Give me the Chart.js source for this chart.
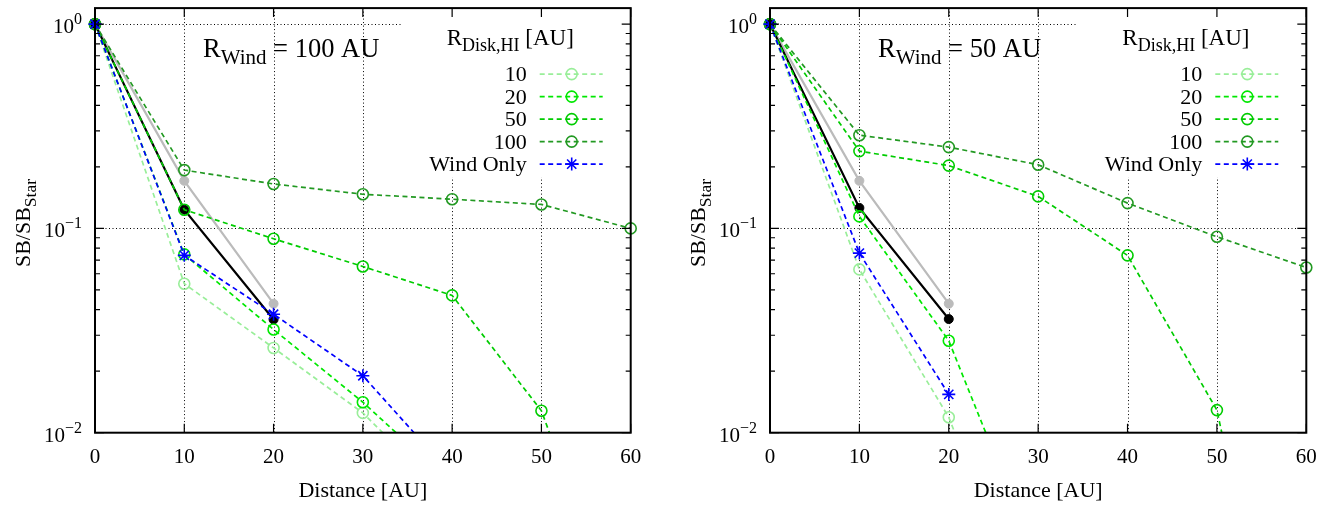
<!DOCTYPE html>
<html><head><meta charset="utf-8">
<script src="https://cdn.jsdelivr.net/npm/chart.js@4.4.0/dist/chart.umd.min.js"></script>
<style>
body{margin:0;background:#fff;width:1335px;height:506px;overflow:hidden;position:relative}
canvas{position:absolute;top:0}
</style></head>
<body>
<canvas id="c1" width="667" height="506" style="left:0px"></canvas>
<canvas id="c2" width="668" height="506" style="left:667px"></canvas>
<script>
// ---------- data ----------
const distance = [0, 10, 20, 30, 40, 50, 60];
const xTicks = [0, 10, 20, 30, 40, 50, 60];
const yMajorTicks = [1, 0.1, 0.01];
const yTickExponents = ['0', '\u22121', '\u22122'];
const legendLabels = ['10', '20', '50', '100', 'Wind Only'];
const panelTitles = ['100 AU', '50 AU'];

// R_Wind = 100 AU
const disk10_w100  = [1, 0.0536, 0.026, 0.0125, 0.0046];
const disk20_w100  = [1, 0.0746, 0.032, 0.0141, 0.0056];
const disk50_w100  = [1, 0.1235, 0.089, 0.0651, 0.047, 0.0128, 0.00082];
const disk100_w100 = [1, 0.193, 0.165, 0.147, 0.139, 0.131, 0.1];
const wind_w100    = [1, 0.0738, 0.038, 0.019, 0.0062];
const black_w100   = [1, 0.1235, 0.0358];
const gray_w100    = [1, 0.171, 0.0428];

// R_Wind = 50 AU
const disk10_w50  = [1, 0.063, 0.0119, 0.0009];
const disk20_w50  = [1, 0.1145, 0.0282, 0.0023];
const disk50_w50  = [1, 0.239, 0.203, 0.1435, 0.0738, 0.0129, 0.00012];
const disk100_w50 = [1, 0.286, 0.25, 0.205, 0.133, 0.091, 0.0644];
const wind_w50    = [1, 0.0757, 0.0154];
const black_w50   = [1, 0.126, 0.036];
const gray_w50    = [1, 0.171, 0.0428];

// ---------- styles ----------
const COL10 = '#99ee99', COL20 = '#00e800', COL50 = '#00cc00', COL100 = '#229922', COLW = '#0000ff';
const FONT = '"Liberation Serif", "DejaVu Serif", serif';
const DASH = [5, 3.5];

function pts(arr) { return arr.map((v, i) => ({x: distance[i], y: v})); }

function openSeries(label, arr, color) {
  return {label, data: pts(arr), borderColor: color, backgroundColor: color, borderWidth: 1.7,
    borderDash: DASH, pointStyle: 'circle', pointRadius: 5.5, pointBorderWidth: 1.6,
    pointBackgroundColor: 'rgba(0,0,0,0)', pointBorderColor: color, tension: 0,
    clip: {left: 20, right: 20, top: 20, bottom: 0}};
}
function starSeries(label, arr, color) {
  return {label, data: pts(arr), borderColor: color, backgroundColor: color, borderWidth: 1.7,
    borderDash: DASH, pointStyle: 'star', pointRadius: 6.5, pointBorderWidth: 1.6,
    pointBorderColor: color, tension: 0, clip: {left: 20, right: 20, top: 20, bottom: 0}};
}
function solidSeries(label, arr, color) {
  return {label, data: pts(arr), borderColor: color, backgroundColor: color, borderWidth: 2.2,
    pointStyle: 'circle', pointRadius: 4.5, pointBorderWidth: 1, pointBackgroundColor: color,
    pointBorderColor: color, tension: 0, clip: {left: 20, right: 20, top: 20, bottom: 0}};
}

function drawRich(ctx, parts, x, y, align) {
  let total = 0;
  parts.forEach(p => { ctx.font = p.size + 'px ' + FONT; p.w = ctx.measureText(p.t).width; total += p.w; });
  let cx = align === 'right' ? x - total : (align === 'center' ? x - total / 2 : x);
  ctx.textAlign = 'left'; ctx.textBaseline = 'alphabetic';
  parts.forEach(p => { ctx.font = p.size + 'px ' + FONT; ctx.fillText(p.t, cx, y + p.dy); cx += p.w; });
}

function legendMarker(ctx, kind, x, y, color) {
  ctx.save();
  ctx.strokeStyle = color; ctx.lineWidth = 1.6; ctx.setLineDash([]);
  if (kind === 'circle') {
    ctx.beginPath(); ctx.arc(x, y, 5.5, 0, Math.PI * 2); ctx.stroke();
  } else {
    const r = 6.5, d = r * Math.SQRT1_2;
    ctx.beginPath();
    ctx.moveTo(x - r, y); ctx.lineTo(x + r, y);
    ctx.moveTo(x, y - r); ctx.lineTo(x, y + r);
    ctx.moveTo(x - d, y - d); ctx.lineTo(x + d, y + d);
    ctx.moveTo(x - d, y + d); ctx.lineTo(x + d, y - d);
    ctx.stroke();
  }
  ctx.restore();
}

const framePlugin = {
  id: 'frame',
  beforeDatasetsDraw(chart) {
    const {ctx, chartArea: a, scales: {x, y}} = chart;
    ctx.save();
    ctx.strokeStyle = '#000'; ctx.lineWidth = 1; ctx.setLineDash([1, 2.5]);
    xTicks.forEach(v => {
      if (v <= 0 || v >= 60) return;
      const px = Math.round(x.getPixelForValue(v)) + 0.5;
      ctx.beginPath(); ctx.moveTo(px, a.top); ctx.lineTo(px, a.bottom); ctx.stroke();
    });
    yMajorTicks.forEach(v => {
      const py = Math.round(y.getPixelForValue(v)) + 0.5;
      if (py >= a.bottom - 1) return;
      ctx.beginPath(); ctx.moveTo(a.left, py); ctx.lineTo(a.right, py); ctx.stroke();
    });
    ctx.setLineDash([]);
    ctx.fillStyle = '#fff';
    ctx.fillRect(a.right - 229, a.top, 229, 169);
    ctx.restore();
  },
  afterDatasetsDraw(chart, args, opts) {
    const {ctx, chartArea: a, scales: {x, y}} = chart;
    ctx.save();
    ctx.strokeStyle = '#000'; ctx.fillStyle = '#000'; ctx.setLineDash([]);
    ctx.lineWidth = 1.2;
    xTicks.forEach(v => {
      const px = x.getPixelForValue(v);
      ctx.beginPath(); ctx.moveTo(px, a.bottom); ctx.lineTo(px, a.bottom - 9);
      ctx.moveTo(px, a.top); ctx.lineTo(px, a.top + 9); ctx.stroke();
    });
    yMajorTicks.forEach(v => {
      const py = y.getPixelForValue(v);
      ctx.beginPath(); ctx.moveTo(a.left, py); ctx.lineTo(a.left + 9, py);
      ctx.moveTo(a.right, py); ctx.lineTo(a.right - 9, py); ctx.stroke();
      for (let k = 2; k <= 9; k++) {
        const mv = v * k;
        if (mv > y.max) break;
        const mp = y.getPixelForValue(mv);
        ctx.beginPath(); ctx.moveTo(a.left, mp); ctx.lineTo(a.left + 5, mp);
        ctx.moveTo(a.right, mp); ctx.lineTo(a.right - 5, mp); ctx.stroke();
      }
    });
    ctx.lineWidth = 2;
    ctx.strokeRect(a.left, a.top, a.right - a.left, a.bottom - a.top);
    ctx.font = '21px ' + FONT; ctx.textAlign = 'center'; ctx.textBaseline = 'alphabetic';
    xTicks.forEach(v => ctx.fillText(String(v), x.getPixelForValue(v), a.bottom + 30));
    yMajorTicks.forEach((v, i) => {
      const py = y.getPixelForValue(v);
      drawRich(ctx, [{t: '10', size: 21, dy: 9}, {t: yTickExponents[i], size: 16, dy: 0}], a.left - 13, py, 'right');
    });
    drawRich(ctx, [{t: 'Distance [AU]', size: 22, dy: 0}], (a.left + a.right) / 2, a.bottom + 64, 'center');
    ctx.save();
    ctx.translate(a.left - 65, 223);
    ctx.rotate(-Math.PI / 2);
    drawRich(ctx, [{t: 'SB/SB', size: 22, dy: 0}, {t: 'Star', size: 17.5, dy: 6}], 0, 0, 'center');
    ctx.restore();
    drawRich(ctx, [{t: 'R', size: 26.5, dy: 0}, {t: 'Wind', size: 21, dy: 7}, {t: ' = ' + opts.title, size: 26.5, dy: 0}],
      a.left + 108, a.top + 49, 'left');
    drawRich(ctx, [{t: 'R', size: 23, dy: 0}, {t: 'Disk,HI', size: 18, dy: 6}, {t: ' [AU]', size: 23, dy: 0}],
      a.right - 184, a.top + 37, 'left');
    const cols = [COL10, COL20, COL50, COL100, COLW];
    legendLabels.forEach((lab, i) => {
      const ly = a.top + 66 + i * 22.5;
      ctx.fillStyle = '#000';
      drawRich(ctx, [{t: lab, size: 22, dy: 0}], a.right - 104, ly + 7, 'right');
      ctx.strokeStyle = cols[i]; ctx.lineWidth = 1.7; ctx.setLineDash(DASH);
      ctx.beginPath(); ctx.moveTo(a.right - 91, ly); ctx.lineTo(a.right - 28, ly); ctx.stroke();
      ctx.setLineDash([]);
      legendMarker(ctx, i === 4 ? 'star' : 'circle', a.right - 59, ly, cols[i]);
    });
    ctx.restore();
  }
};

function makeChart(id, series, title, padLeft, padRight) {
  const [d10, d20, d50, d100, wind, black, gray] = series;
  return new Chart(document.getElementById(id), {
    type: 'line',
    data: {
      datasets: [
        starSeries('Wind Only', wind, COLW),
        openSeries('100', d100, COL100),
        openSeries('50', d50, COL50),
        openSeries('20', d20, COL20),
        openSeries('10', d10, COL10),
        solidSeries('black', black, '#000000'),
        solidSeries('gray', gray, '#bbbbbb')
      ]
    },
    options: {
      responsive: false, animation: false, devicePixelRatio: 1,
      layout: {padding: {left: padLeft, right: padRight, top: 8, bottom: 73.3}},
      plugins: {legend: {display: false}, tooltip: {enabled: false}, frame: {title}},
      scales: {
        x: {type: 'linear', min: 0, max: 60, display: false},
        y: {type: 'logarithmic', min: 0.01, max: 1.198, display: false}
      }
    },
    plugins: [framePlugin]
  });
}

makeChart('c1', [disk10_w100, disk20_w100, disk50_w100, disk100_w100, wind_w100, black_w100, gray_w100], panelTitles[0], 95, 36.3);
makeChart('c2', [disk10_w50, disk20_w50, disk50_w50, disk100_w50, wind_w50, black_w50, gray_w50], panelTitles[1], 103, 28.7);
</script>
</body></html>
